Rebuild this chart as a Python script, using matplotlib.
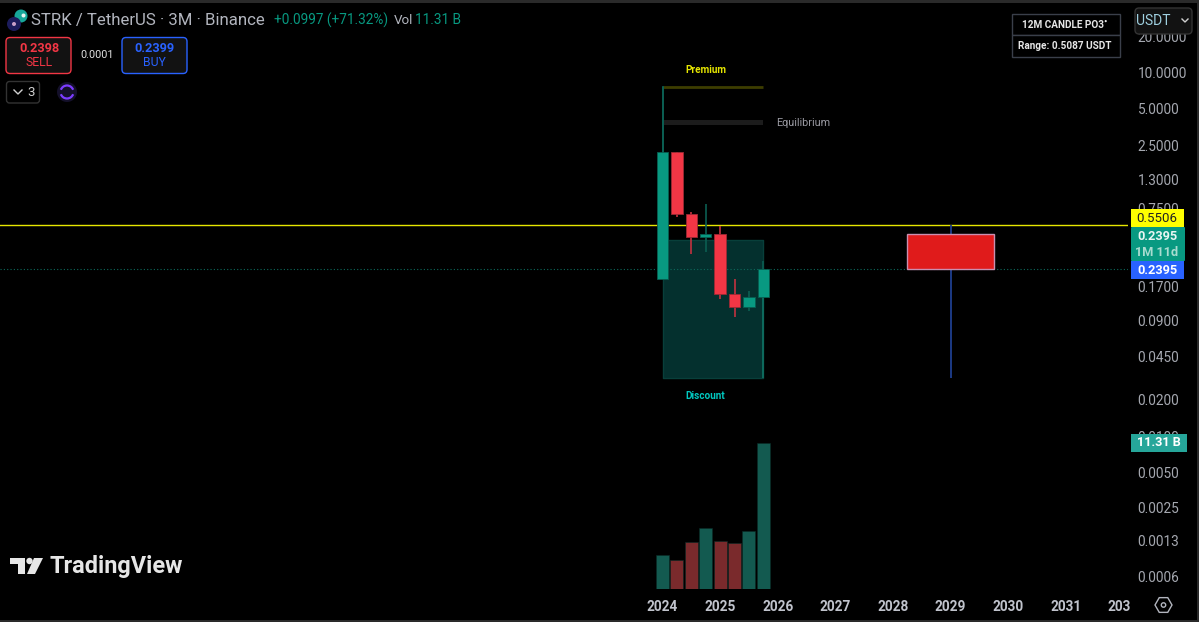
import numpy as np
import matplotlib
matplotlib.use("Agg")
import matplotlib.pyplot as plt
from matplotlib.patches import FancyBboxPatch, Rectangle, Circle, Polygon, RegularPolygon, Arc

plt.rcParams['font.family'] = ['Roboto', 'DejaVu Sans']

# quarterly candles
years = [2024, 2024.25, 2024.5, 2024.75, 2025, 2025.25, 2025.5, 2025.75]
opens = [0.1985, 2.20, 0.6863, 0.4376, 0.4694, 0.1493, 0.1157, 0.1398]
closes = [2.20, 0.6736, 0.4376, 0.4694, 0.1474, 0.1157, 0.1400, 0.2395]
highs = [7.71, 2.20, 0.7129, 0.8146, 0.5394, 0.1985, 0.1569, 0.2795]
lows = [0.1985, 0.6397, 0.3151, 0.3291, 0.1365, 0.0965, 0.1087, 0.1398]
volumes = [2.63, 2.24, 3.63, 4.72, 3.71, 3.53, 4.46, 11.31]

# indicator levels
premium = 7.59
equilibrium = [3.67, 4.09]
box_top = 0.4111
box_bottom = 0.0303
box_years = [2024, 2025.75]
level = 0.5506
last_price = 0.2395
po3_years = [2028.25, 2029.75]
po3_open = 0.4694
po3_close = 0.2395
po3_high = 0.5506
po3_low = 0.0303

price_ticks = [20, 10, 5, 2.5, 1.3, 0.75, 0.17, 0.09, 0.045, 0.02, 0.01, 0.005, 0.00258, 0.00138, 0.0007]
price_labels = ['20.0000', '10.0000', '5.0000', '2.5000', '1.3000', '0.7500', '0.1700', '0.0900',
                '0.0450', '0.0200', '0.0100', '0.0050', '0.0025', '0.0013', '0.0006']
year_ticks = [2024, 2025, 2026, 2027, 2028, 2029, 2030, 2031, 2031.93]
year_labels = ['2024', '2025', '2026', '2027', '2028', '2029', '2030', '2031', '203']

GREEN = '#089981'
RED = '#f23645'
BLUE = '#2962ff'
GREY = '#b2b5be'
W, H = 1199, 622


def price_at(y):
    return 10 ** (1 - (y - 73) / 121.2)


def year_at(x):
    return 2024 + (x - 662.5) / 57.6


fig = plt.figure(figsize=(W / 100, H / 100), dpi=100, facecolor='black')
ax = fig.add_axes([0, (H - 589) / H, 1128 / W, 581 / H], facecolor='black')
ax.set_yscale('log')
ax.set_xlim(year_at(0), year_at(1128))
ax.set_ylim(price_at(589.5), price_at(8.5))

# discount box, premium and equilibrium
ax.fill_between(box_years, box_bottom, box_top, facecolor='#04302e', edgecolor='#083f3a', lw=1, zorder=1)
ax.plot(box_years, [premium, premium], color='#3d3d00', lw=2, solid_capstyle='butt', zorder=1)
ax.fill_between(box_years, equilibrium[0], equilibrium[1], color='#1c1c1c', lw=0, zorder=1)
ax.vlines(box_years[0], opens[0], premium, color='#0b5e52', lw=1.4, zorder=1)
ax.vlines(box_years[1], box_bottom, opens[-1], color='#0e6a5d', lw=1.4, zorder=1)

# horizontal levels
ax.axhline(level, color='#e6e600', lw=1, zorder=2)
ax.axhline(last_price, color='#0c6a5c', lw=0.8, ls=(0, (1, 2)), zorder=2)

# candles
for x, o, c, hi, lo in zip(years, opens, closes, highs, lows):
    up = c >= o
    wick = '#0b5e52' if up else '#c2323f'
    ax.vlines(x, lo, hi, color=wick, lw=1.2, zorder=3)
    ax.bar(x, abs(c - o), bottom=min(o, c), width=0.195, color=GREEN if up else RED,
           edgecolor='#075e50' if up else '#9c2a35', lw=0.6, zorder=4)

# 12M candle projection
mid = sum(po3_years) / 2
ax.vlines(mid, po3_low, po3_high, color='#1f3f8f', lw=1.3, zorder=3)
ax.bar(mid, po3_open - po3_close, bottom=po3_close, width=po3_years[1] - po3_years[0],
       color='#e01b1b', edgecolor='#c98fb0', lw=1, zorder=4)

ax.yaxis.tick_right()
ax.set_yticks(price_ticks)
ax.set_yticklabels(price_labels)
ax.minorticks_off()
ax.set_xticks(year_ticks)
ax.set_xticklabels(year_labels)
ax.tick_params(axis='y', length=0, pad=7, labelsize=9.8, labelcolor='#a5a8b0')
ax.tick_params(axis='x', length=0, pad=8, labelsize=9.8, labelcolor='#c0c3cc')
for s in ax.spines.values():
    s.set_visible(False)
for t in ax.get_xticklabels():
    t.set_fontweight('bold')

# volume pane shares the bottom edge
vol = ax.twinx()
vol.set_ylim(0, 11.31 * 581 / 146.3)
vol_colors = ['#135a50' if c >= o else '#7a2a2c' for o, c in zip(opens, closes)]
vol.bar(years, volumes, width=0.225, color=vol_colors, edgecolor='#0a2a26', lw=0.4)
vol.set_yticks([])
for s in vol.spines.values():
    s.set_visible(False)
ax.yaxis.tick_right()

# pixel overlay for the interface pieces
ui = fig.add_axes([0, 0, 1, 1], facecolor='none')
ui.set_xlim(0, W)
ui.set_ylim(H, 0)
ui.axis('off')


def rbox(x0, y0, x1, y1, face, edge='none', lw=1, r=3):
    ui.add_patch(FancyBboxPatch((x0 + r, y0 + r), x1 - x0 - 2 * r, y1 - y0 - 2 * r,
                                boxstyle='round,pad=%d,rounding_size=%d' % (r, r),
                                facecolor=face, edgecolor=edge, lw=lw))


def label(x, y, s, color=GREY, size=9, weight='normal', ha='center'):
    ui.text(x, y, s, color=color, fontsize=size, fontweight=weight, ha=ha, va='center')


# window borders
ui.add_patch(Rectangle((0, 0), W, 2.5, color='#2a2a2a', lw=0))
ui.add_patch(Rectangle((0, 619.5), W, 2.5, color='#2a2a2a', lw=0))
ui.add_patch(Rectangle((1197, 0), 2, H, color='#2a2a2a', lw=0))

# header
ui.add_patch(Circle((21, 16), 6.5, color='#17a79a', lw=0))
ui.add_patch(Circle((23.5, 15.5), 2, color='#e8f5f2', lw=0))
ui.add_patch(Circle((14, 24), 7, color='#1c1c5c', lw=0))
ui.add_patch(Circle((14, 24), 2, color='#c9a0c8', lw=0))
label(31, 21, 'STRK / TetherUS · 3M · Binance', size=12.05, ha='left')
label(274, 20, '+0.0997 (+71.32%)', color=GREEN, size=9.8, ha='left')
label(394, 20, 'Vol', size=9.6, ha='left')
label(415, 20, '11.31 B', color=GREEN, size=9.8, ha='left')

# sell / buy
rbox(6, 37.5, 71, 73.5, '#121212', RED, 1, 4)
label(39, 48, '0.2398', color=RED, size=9.2, weight='bold')
label(39, 63, 'SELL', color=RED, size=8.8)
label(97, 55, '0.0001', color='#e0e0e0', size=7.8)
rbox(122, 37.5, 187, 73.5, '#121212', BLUE, 1, 4)
label(154.5, 48, '0.2399', color=BLUE, size=9.2, weight='bold')
label(154.5, 63, 'BUY', color=BLUE, size=8.8)

# collapse button and sync icon
rbox(6.5, 81.5, 39.5, 103, 'black', '#333333', 1, 3)
ui.plot([14, 18, 22], [90, 94, 90], color='#d0d0d0', lw=1)
label(31, 92, '3', color='#d0d0d0', size=9.5)
ui.add_patch(Circle((67, 92), 10, color='#14102a', lw=0))
ui.add_patch(Arc((67, 92), 13, 13, theta1=200, theta2=340, color='#7c3cff', lw=1.6))
ui.add_patch(Arc((67, 92), 13, 13, theta1=20, theta2=160, color='#7c3cff', lw=1.6))

# indicator table
ui.add_patch(Rectangle((1011.5, 13.5), 108, 21, facecolor='black', edgecolor='#3a3f4a', lw=1))
ui.add_patch(Rectangle((1011.5, 34.5), 108, 22, facecolor='black', edgecolor='#3a3f4a', lw=1))
label(1065, 25, '12M CANDLE PO3˚', color='#e6e6e6', size=7.2, weight='bold')
label(1065, 46, 'Range: 0.5087 USDT', color='#e6e6e6', size=7.2, weight='bold')

# currency selector
rbox(1135, 8, 1192, 34, '#121212', '#333333', 1, 4)
label(1153, 21, 'USDT', color='#9fd0e0', size=10)
ui.plot([1182, 1185, 1188], [19, 22, 19], color='#d0d0d0', lw=1)

# level captions
label(705.5, 70, 'Premium', color='#e6e600', size=7.2, weight='bold')
label(803, 123.5, 'Equilibrium', color='#9a9aa2', size=7.8)
label(705.5, 396, 'Discount', color='#00c8c0', size=7.2, weight='bold')

# price tags
ui.add_patch(Rectangle((1131, 209), 53, 18, color='#ffff00', lw=0))
label(1157, 218, '0.5506', color='#222222', size=9.5)
rbox(1131, 227, 1185, 261, GREEN, r=1)
label(1157, 236, '0.2395', color='#e8f5f2', size=9.2, weight='bold')
label(1157, 252, '1M 11d', color='#a8dcd0', size=9.2, weight='bold')
ui.add_patch(Rectangle((1131, 261), 53, 18, color=BLUE, lw=0))
label(1157, 270, '0.2395', color='white', size=9.2, weight='bold')
ui.add_patch(Rectangle((1131, 434), 56, 18, color='#26a69a', lw=0))
label(1159, 443, '11.31 B', color='white', size=9.2, weight='bold')

# settings icon
ui.add_patch(RegularPolygon((1163.5, 605), 6, radius=8.5, orientation=np.pi / 2, fill=False, edgecolor=GREY, lw=1))
ui.add_patch(Circle((1163.5, 605), 2.2, fill=False, edgecolor=GREY, lw=1))

# watermark
ui.add_patch(Polygon([(10, 558), (25, 558), (25, 574), (18, 574), (18, 564), (10, 564)], color='#e6e6e6', lw=0))
ui.add_patch(Circle((29.5, 561), 3.2, color='#e6e6e6', lw=0))
ui.add_patch(Polygon([(34, 558), (43, 558), (35, 574), (27, 574)], color='#e6e6e6', lw=0))
label(50, 566.5, 'TradingView', color='#e6e6e6', size=16.9, weight='bold', ha='left')

fig.savefig('out.png', dpi=100, facecolor='black')
